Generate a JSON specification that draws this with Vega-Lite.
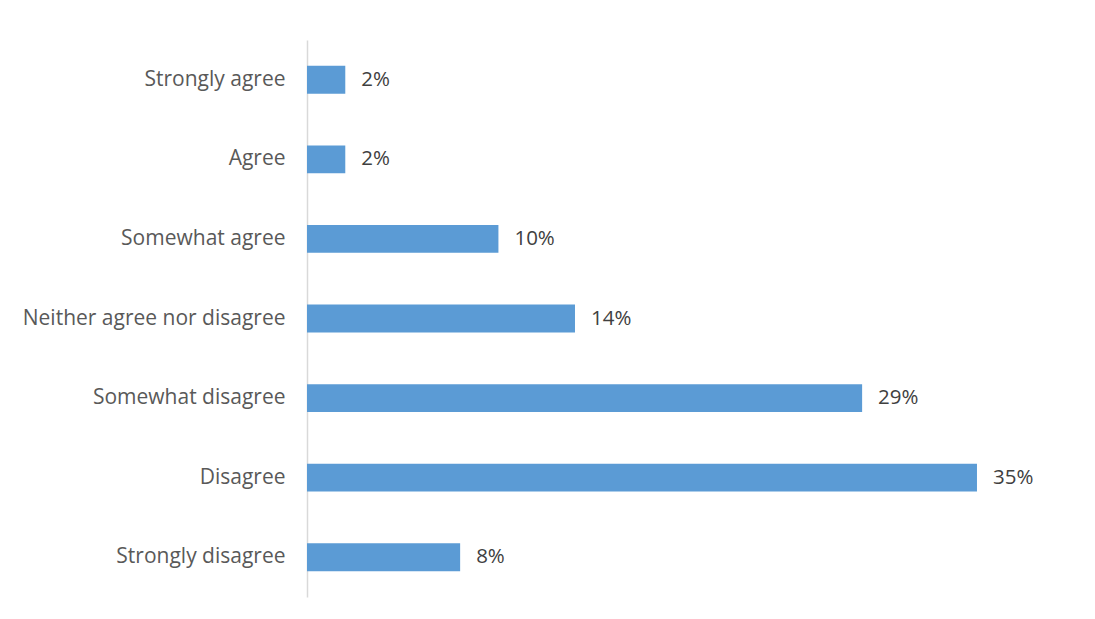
{
  "$schema": "https://vega.github.io/schema/vega-lite/v6.json",
  "width": 790,
  "height": 557,
  "autosize": {"type": "none"},
  "padding": {"left": 307, "top": 40, "right": 0, "bottom": 22},
  "background": "white",
  "config": {"view": {"stroke": null}, "font": "Open Sans"},
  "data": {
    "values": [
      {"response": "Strongly agree", "share": 0.02},
      {"response": "Agree", "share": 0.02},
      {"response": "Somewhat agree", "share": 0.10},
      {"response": "Neither agree nor disagree", "share": 0.14},
      {"response": "Somewhat disagree", "share": 0.29},
      {"response": "Disagree", "share": 0.35},
      {"response": "Strongly disagree", "share": 0.08}
    ]
  },
  "encoding": {
    "y": {
      "field": "response",
      "type": "nominal",
      "sort": null,
      "scale": {"paddingInner": 0.65, "paddingOuter": 0.325},
      "axis": {
        "title": null,
        "ticks": false,
        "domainColor": "#d9d9d9",
        "domainWidth": 1.5,
        "labelFontSize": 21,
        "labelColor": "#595959",
        "labelPadding": 22,
        "labelLimit": 320,
        "labelFont": "Open Sans"
      }
    }
  },
  "layer": [
    {
      "mark": {"type": "bar", "color": "#5B9BD5"},
      "encoding": {
        "x": {"field": "share", "type": "quantitative", "scale": {"domain": [0, 0.4127], "nice": false, "zero": true}, "axis": null}
      }
    },
    {
      "mark": {"type": "text", "align": "left", "baseline": "middle", "dx": 16, "fontSize": 20.5, "color": "#404040", "font": "Open Sans"},
      "encoding": {
        "x": {"field": "share", "type": "quantitative"},
        "text": {"field": "share", "type": "quantitative", "format": ".0%"}
      }
    }
  ]
}
